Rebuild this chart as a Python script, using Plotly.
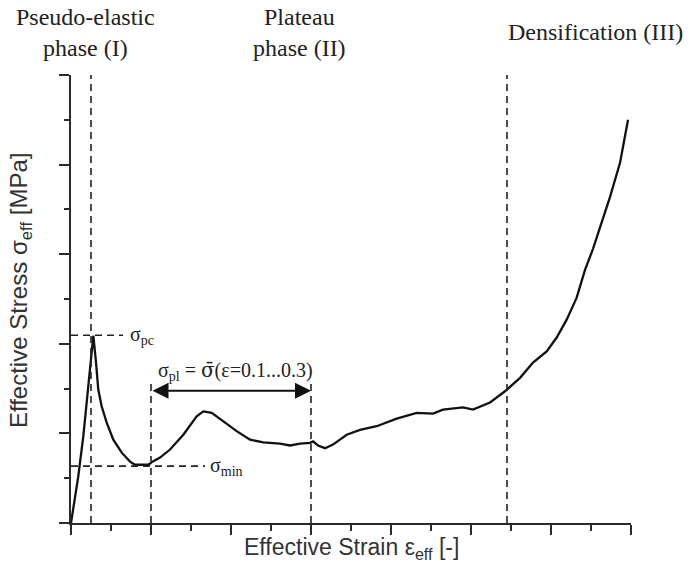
import plotly.graph_objects as go

# Stress-strain curve (effective strain [-], effective stress [arbitrary units])
strain = [0.0, 0.0091, 0.0154, 0.0216, 0.0279, 0.0313, 0.0341, 0.0384, 0.0446, 0.0529,
          0.0634, 0.0738, 0.08, 0.0863, 0.0966, 0.1029, 0.1113, 0.1238, 0.1404, 0.1571,
          0.1654, 0.1759, 0.1904, 0.2071, 0.2238, 0.2404, 0.2613, 0.2738, 0.2863, 0.2988,
          0.3025, 0.3088, 0.3175, 0.3275, 0.3446, 0.3613, 0.3821, 0.4071, 0.4321, 0.4525,
          0.465, 0.49, 0.5025, 0.5238, 0.5425, 0.5613, 0.5775, 0.5946, 0.6071, 0.6196,
          0.6321, 0.6425, 0.6525, 0.6613, 0.6738, 0.6863, 0.6963]
stress = [0.0, 1.04, 1.94, 2.98, 4.18, 3.58, 2.98, 2.60, 2.24, 1.86,
          1.57, 1.37, 1.30, 1.30, 1.30, 1.38, 1.46, 1.64, 1.97, 2.38,
          2.49, 2.46, 2.27, 2.05, 1.86, 1.80, 1.77, 1.73, 1.77, 1.79,
          1.82, 1.73, 1.67, 1.75, 1.97, 2.08, 2.16, 2.33, 2.46, 2.44,
          2.53, 2.58, 2.53, 2.69, 2.94, 3.24, 3.58, 3.83, 4.14, 4.54,
          5.03, 5.65, 6.12, 6.61, 7.28, 8.04, 9.00]

# Reference lines
vline_x = [0.025, 0.1, 0.3, 0.545]
vline_top = [10, 3.12, 3.12, 10]
sigma_pc = 4.19
sigma_pc_end = 0.065
sigma_min = 1.27
sigma_min_end = 0.1675
plateau_from, plateau_to, arrow_y = 0.1, 0.3, 2.95

phase_labels = ["Pseudo-elastic<br>phase (I)", "Plateau<br>phase (II)", "Densification (III)"]
phase_x = [0.0175, 0.286, 0.656]

x_major = [0.0, 0.1, 0.2, 0.3, 0.4, 0.5, 0.6, 0.7]
x_minor = [0.05, 0.15, 0.25, 0.35, 0.45, 0.55, 0.65]
y_major = [0, 2, 4, 6, 8, 10]
y_minor = [1, 3, 5, 7, 9]

AX = "#2a2a2a"
SERIF = "Liberation Serif, Times New Roman, serif"
SANS = "Liberation Sans, Arial, sans-serif"
DASH = "7px,5px"

fig = go.Figure()
fig.add_trace(go.Scatter(x=strain, y=stress, mode="lines",
                         line=dict(color="#111111", width=2.3), showlegend=False,
                         hoverinfo="skip"))

for xv, yt in zip(vline_x, vline_top):
    fig.add_shape(type="line", xref="x", yref="y", x0=xv, x1=xv, y0=0, y1=yt,
                  line=dict(color="#222222", width=1.6, dash=DASH))

for yv, xe in [(sigma_pc, sigma_pc_end), (sigma_min, sigma_min_end)]:
    fig.add_shape(type="line", xref="x", yref="y", x0=0, x1=xe, y0=yv, y1=yv,
                  line=dict(color="#222222", width=1.6, dash=DASH))

# double arrow
fig.add_annotation(x=plateau_to, y=arrow_y, ax=plateau_from, ay=arrow_y,
                   xref="x", yref="y", axref="x", ayref="y", text="",
                   showarrow=True, arrowhead=2, arrowside="end+start",
                   arrowsize=1.6, arrowwidth=2, arrowcolor="#111111")

fig.add_annotation(x=0.071, y=sigma_pc, xref="x", yref="y", xanchor="left", yanchor="middle",
                   text="σ<sub>pc</sub>", showarrow=False,
                   font=dict(family=SERIF, size=20, color="#222222"))
fig.add_annotation(x=0.171, y=sigma_min, xref="x", yref="y", xanchor="left", yanchor="middle",
                   text="σ<sub>min</sub>", showarrow=False,
                   font=dict(family=SERIF, size=20, color="#222222"))
fig.add_annotation(x=0.206, y=3.4, xref="x", yref="y", xanchor="center", yanchor="middle",
                   text="σ<sub>pl</sub> = <span style=\"font-family:'DejaVu Serif'\">σ̄</span>(ε=0.1...0.3)",
                   showarrow=False,
                   font=dict(family=SERIF, size=20, color="#222222"))

for lab, xv in zip(phase_labels, phase_x):
    fig.add_annotation(x=xv, y=1.095, xref="x", yref="paper", xanchor="center", yanchor="middle",
                       text=lab, showarrow=False,
                       font=dict(family=SERIF, size=24, color="#222222"))

fig.add_annotation(x=0.5, y=-0.057, xref="paper", yref="paper", xanchor="center", yanchor="middle",
                   text="Effective Strain ε<sub>eff</sub> [-]", showarrow=False,
                   font=dict(family=SANS, size=23, color="#333333"))
fig.add_annotation(x=-0.091, y=0.52, xref="paper", yref="paper", xanchor="center", yanchor="middle",
                   text="Effective Stress σ<sub>eff</sub> [MPa]", showarrow=False, textangle=-90,
                   font=dict(family=SANS, size=24, color="#333333"))

fig.update_xaxes(range=[0, 0.7], showgrid=False, zeroline=False, showline=True,
                 linecolor=AX, linewidth=1.5, ticks="outside", ticklen=10, tickwidth=1.5,
                 tickcolor=AX, tickvals=x_major, showticklabels=False,
                 minor=dict(ticks="outside", ticklen=6, tickwidth=1.5, tickcolor=AX,
                            tickvals=x_minor, showgrid=False))
fig.update_yaxes(range=[0, 10], showgrid=False, zeroline=False, showline=True,
                 linecolor=AX, linewidth=1.5, ticks="outside", ticklen=10, tickwidth=1.5,
                 tickcolor=AX, tickvals=y_major, showticklabels=False,
                 minor=dict(ticks="outside", ticklen=5, tickwidth=1.5, tickcolor=AX,
                            tickvals=y_minor, showgrid=False))

fig.update_layout(width=691, height=571, margin=dict(l=71, r=60, t=75, b=48),
                  plot_bgcolor="white", paper_bgcolor="white", showlegend=False)

fig.write_html("out.html", config={"displayModeBar": False},
               post_script="document.body.style.margin='0';document.body.style.overflow='hidden';")
